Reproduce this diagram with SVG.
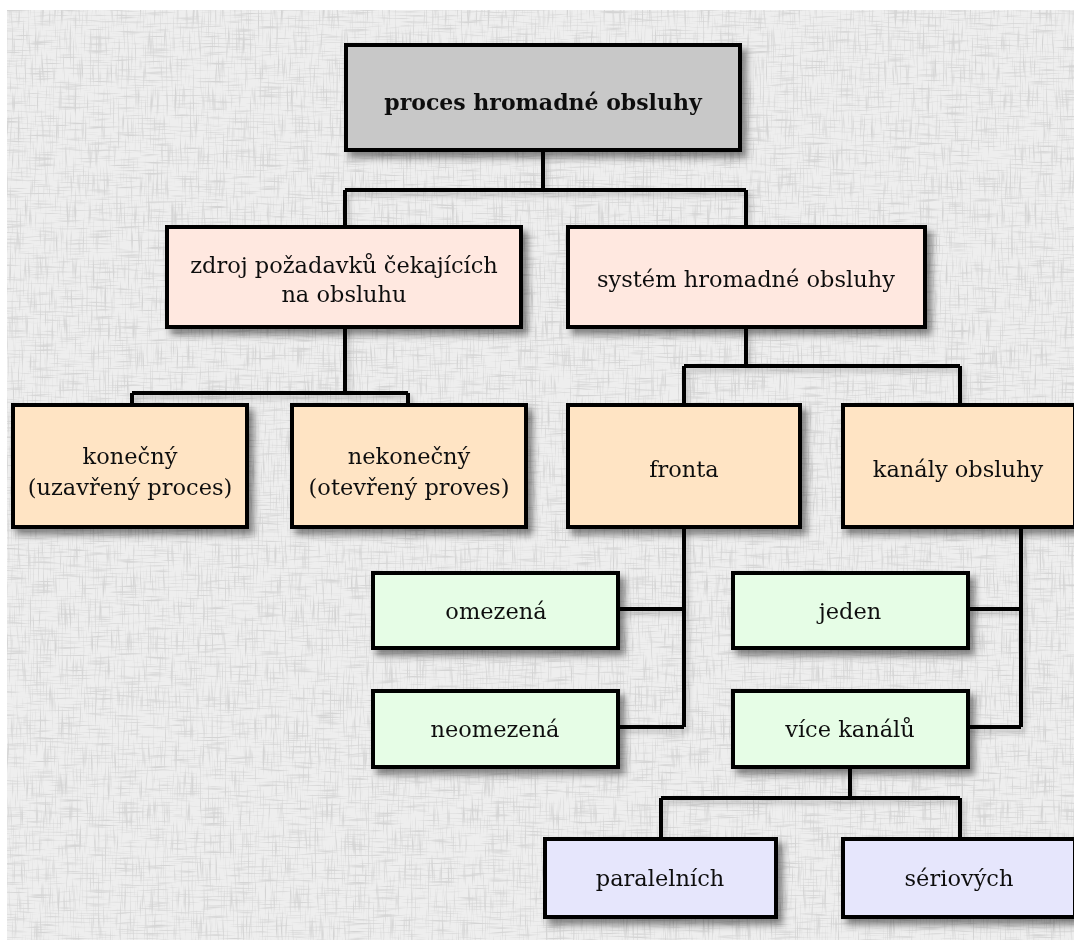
<svg xmlns="http://www.w3.org/2000/svg" width="1074" height="940" viewBox="0 0 1074 940">
  <defs>
    <!-- woven paper background: horizontal and vertical grain over a light grey base -->
    <filter id="weave" x="0" y="0" width="100%" height="100%" filterUnits="objectBoundingBox">
      <feTurbulence type="fractalNoise" baseFrequency="0.035 0.6" numOctaves="2" seed="3" result="hn"/>
      <feColorMatrix in="hn" type="matrix" values="0 0 0 0 0.66  0 0 0 0 0.66  0 0 0 0 0.66  3.2 0 0 0 -1.65" result="h"/>
      <feTurbulence type="fractalNoise" baseFrequency="0.6 0.035" numOctaves="2" seed="11" result="vn"/>
      <feColorMatrix in="vn" type="matrix" values="0 0 0 0 0.66  0 0 0 0 0.66  0 0 0 0 0.66  3.2 0 0 0 -1.65" result="v"/>
      <feFlood flood-color="#eeeeee" result="base"/>
      <feComposite in="h" in2="base" operator="over" result="b1"/>
      <feComposite in="v" in2="b1" operator="over"/>
    </filter>
    <filter id="shadow" x="-10%" y="-15%" width="130%" height="140%">
      <feDropShadow dx="5" dy="6" stdDeviation="3.5" flood-color="#000" flood-opacity="0.45"/>
    </filter>
    <filter id="lineshadow" x="-20%" y="-20%" width="140%" height="140%">
      <feDropShadow dx="3" dy="4" stdDeviation="2.5" flood-color="#000" flood-opacity="0.2"/>
    </filter>
    <style>
      .box { stroke: #000; stroke-width: 4; }
      .top { fill: #c8c8c8; }
      .l2 { fill: #ffe8e0; }
      .l3 { fill: #ffe4c4; }
      .l4 { fill: #e6fde6; }
      .l5 { fill: #e6e6fc; }
      .lbl { font-family: "DejaVu Serif", "Liberation Serif", serif; font-size: 22.5px; fill: #111; text-anchor: middle; }
      .bold { font-weight: bold; font-size: 22px; }
      .wire { fill: none; stroke: #000; stroke-width: 4; stroke-linejoin: miter; }
    </style>
  </defs>

  <rect x="0" y="0" width="1074" height="940" fill="#ffffff"/>
  <rect x="7" y="10" width="1067" height="930" filter="url(#weave)"/>

  <!-- connectors -->
  <g id="connectors" class="wire" filter="url(#lineshadow)">
    <path d="M543,150 V190 M345,190 H746 M345,190 V227 M746,190 V227"/>
    <path d="M345,327 V393 M132,393 H408 M132,393 V405 M408,393 V405"/>
    <path d="M746,327 V366 M684,366 H960 M684,366 V405 M960,366 V405"/>
    <path d="M684,527 V727 M618,609 H684 M618,727 H684"/>
    <path d="M1021,527 V727 M968,609 H1021 M968,727 H1021"/>
    <path d="M850,767 V798 M661,798 H960 M661,798 V839 M960,798 V839"/>
  </g>

  <g id="n-proces" filter="url(#shadow)">
    <rect class="box top" x="346" y="45" width="394" height="105"/>
    <text class="lbl bold" x="543" y="110">proces hromadné obsluhy</text>
  </g>

  <g id="n-zdroj" filter="url(#shadow)">
    <rect class="box l2" x="167" y="227" width="354" height="100"/>
    <text class="lbl" x="344" y="273">zdroj požadavků čekajících</text>
    <text class="lbl" x="344" y="302">na obsluhu</text>
  </g>

  <g id="n-system" filter="url(#shadow)">
    <rect class="box l2" x="568" y="227" width="357" height="100"/>
    <text class="lbl" x="746" y="287">systém hromadné obsluhy</text>
  </g>

  <g id="n-konecny" filter="url(#shadow)">
    <rect class="box l3" x="13" y="405" width="234" height="122"/>
    <text class="lbl" x="130" y="464">konečný</text>
    <text class="lbl" x="130" y="495">(uzavřený proces)</text>
  </g>

  <g id="n-nekonecny" filter="url(#shadow)">
    <rect class="box l3" x="292" y="405" width="234" height="122"/>
    <text class="lbl" x="409" y="464">nekonečný</text>
    <text class="lbl" x="409" y="495">(otevřený proves)</text>
  </g>

  <g id="n-fronta" filter="url(#shadow)">
    <rect class="box l3" x="568" y="405" width="232" height="122"/>
    <text class="lbl" x="684" y="477">fronta</text>
  </g>

  <g id="n-kanaly" filter="url(#shadow)">
    <rect class="box l3" x="843" y="405" width="232" height="122"/>
    <text class="lbl" x="958" y="477">kanály obsluhy</text>
  </g>

  <g id="n-omezena" filter="url(#shadow)">
    <rect class="box l4" x="373" y="573" width="245" height="75"/>
    <text class="lbl" x="496" y="619">omezená</text>
  </g>

  <g id="n-neomezena" filter="url(#shadow)">
    <rect class="box l4" x="373" y="691" width="245" height="76"/>
    <text class="lbl" x="495" y="737">neomezená</text>
  </g>

  <g id="n-jeden" filter="url(#shadow)">
    <rect class="box l4" x="733" y="573" width="235" height="75"/>
    <text class="lbl" x="850" y="619">jeden</text>
  </g>

  <g id="n-vice" filter="url(#shadow)">
    <rect class="box l4" x="733" y="691" width="235" height="76"/>
    <text class="lbl" x="850" y="737">více kanálů</text>
  </g>

  <g id="n-paralelnich" filter="url(#shadow)">
    <rect class="box l5" x="545" y="839" width="231" height="78"/>
    <text class="lbl" x="660" y="886">paralelních</text>
  </g>

  <g id="n-seriovych" filter="url(#shadow)">
    <rect class="box l5" x="843" y="839" width="232" height="78"/>
    <text class="lbl" x="959" y="886">sériových</text>
  </g>
</svg>
